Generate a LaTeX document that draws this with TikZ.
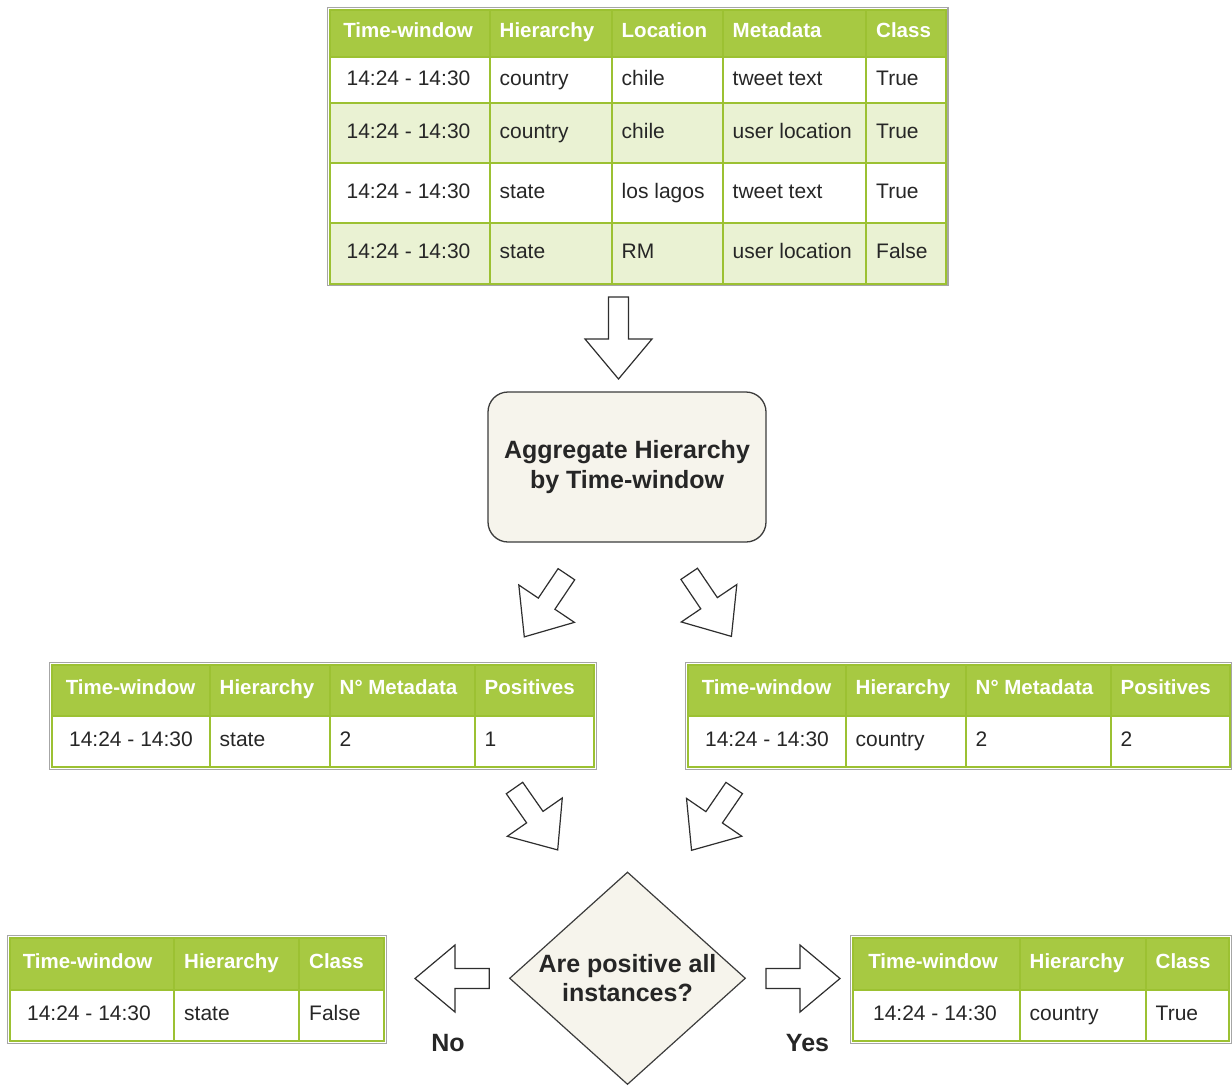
\documentclass[tikz,border=0pt]{standalone}
\usepackage{fontspec}
\setmainfont{Liberation Sans}
\usetikzlibrary{shapes.geometric}
\definecolor{hdrc}{HTML}{A7C942}
\definecolor{gline}{HTML}{9CC132}
\definecolor{litec}{HTML}{EAF2D3}
\definecolor{obord}{HTML}{A6A6A6}
\definecolor{txtc}{HTML}{262626}
\definecolor{boxf}{HTML}{F6F4EC}
\definecolor{boxd}{HTML}{3C3C3C}
\definecolor{arwc}{HTML}{2E2E2E}
\newcommand\tabhdfont{\fontsize{20.5}{24}\selectfont\bfseries}
\newcommand\tabcellfont{\fontsize{21}{25}\selectfont}
\newcommand\boldbigfont{\fontsize{25}{29.5}\selectfont\bfseries}
\tikzset{
 hd/.style={font=\tabhdfont,text=white,inner sep=0pt},
 cell/.style={font=\tabcellfont,text=txtc,inner sep=0pt},
 grid/.style={draw=gline,line width=2pt},
 outerb/.style={draw=obord,line width=1.5pt},
 arw/.style={draw=arwc,line width=1.2pt,fill=white,line join=miter},
 barrow/.pic={\path[arw] (0,-10) -- ({#1-40},-10) -- ({#1-40},-33.5) -- (#1,0) -- ({#1-40},33.5) -- ({#1-40},10) -- (0,10) -- cycle;},
 procbox/.style={draw=boxd,fill=boxf,rounded corners=20pt,minimum width=278pt,minimum height=150pt,line width=1.3pt,align=center,font=\boldbigfont,text=txtc,inner sep=0pt},
 decbox/.style={diamond,aspect=1.11,draw=boxd,fill=boxf,minimum width=236pt,minimum height=212.5pt,inner sep=0pt,align=center,font=\boldbigfont,text=txtc,line width=1.2pt},
 lbl/.style={font=\boldbigfont,text=txtc,inner sep=0pt}
}
\begin{document}
\begin{tikzpicture}[x=1pt,y=-1pt]
\useasboundingbox (0,0) rectangle (1232,1085);
% ---------- top table ----------
\fill[hdrc] (330,10) rectangle (946,57);
\fill[litec] (330,103) rectangle (946,163);
\fill[litec] (330,223) rectangle (946,284);
\foreach \x in {490,612,723,866} \draw[grid] (\x,10) -- (\x,284);
\foreach \y in {57,103,163,223} \draw[grid] (330,\y) -- (946,\y);
\draw[grid] (330,10) rectangle (946,284);
\draw[outerb] (327.5,7.5) rectangle (948,285.5);
\node[hd,anchor=base] (t1h1) at (408,37.5) {Time-window};
\node[hd,anchor=base west] (t1h2) at (499.5,37.5) {Hierarchy};
\node[hd,anchor=base west] (t1h3) at (621.5,37.5) {Location};
\node[hd,anchor=base west] (t1h4) at (732.5,37.5) {Metadata};
\node[hd,anchor=base west] (t1h5) at (876,37.5) {Class};
\foreach \r/\yb/\hh/\loc/\meta/\cls in {1/85/country/chile/tweet text/True,2/138/country/chile/user location/True,3/198/state/los lagos/tweet text/True,4/258.5/state/RM/user location/False}{
 \node[cell,anchor=base] (t1-\r-1) at (408.5,\yb) {14:24 - 14:30};
 \node[cell,anchor=base west] (t1-\r-2) at (499.5,\yb) {\hh};
 \node[cell,anchor=base west] (t1-\r-3) at (621.5,\yb) {\loc};
 \node[cell,anchor=base west] (t1-\r-4) at (732.5,\yb) {\meta};
 \node[cell,anchor=base west] (t1-\r-5) at (876,\yb) {\cls};
}
% ---------- down arrow ----------
\pic[rotate=-90] at (618.5,297) {barrow=82};
% ---------- process box ----------
\node[procbox] (agg) at (627,467) {Aggregate Hierarchy\\by Time-window};
% ---------- diagonal arrows ----------
\pic[rotate=-123.9] at (566.4,574.2) {barrow=75.5};
\pic[rotate=-56] at (689.2,573.8) {barrow=75.5};
% ---------- middle-left table ----------
\fill[hdrc] (52,665) rectangle (594,716);
\foreach \x in {210,330,475} \draw[grid] (\x,665) -- (\x,767);
\draw[grid] (52,716) -- (594,716);
\draw[grid] (52,665) rectangle (594,767);
\draw[outerb] (49.5,662.5) rectangle (596.5,769.5);
\node[hd,anchor=base] (t2h1) at (130.5,694.5) {Time-window};
\node[hd,anchor=base west] (t2h2) at (219.5,694.5) {Hierarchy};
\node[hd,anchor=base west] (t2h3) at (339.5,694.5) {N° Metadata};
\node[hd,anchor=base west] (t2h4) at (484.5,694.5) {Positives};
\node[cell,anchor=base] (t2c1) at (131,746.5) {14:24 - 14:30};
\node[cell,anchor=base west] (t2c2) at (219.5,746.5) {state};
\node[cell,anchor=base west] (t2c3) at (339.5,746.5) {2};
\node[cell,anchor=base west] (t2c4) at (484.5,746.5) {1};
% ---------- middle-right table ----------
\fill[hdrc] (688,665) rectangle (1230,716);
\foreach \x in {846,966,1111} \draw[grid] (\x,665) -- (\x,767);
\draw[grid] (688,716) -- (1230,716);
\draw[grid] (688,665) rectangle (1230,767);
\draw[outerb] (685.5,662.5) rectangle (1231.5,769.5);
\node[hd,anchor=base] (t3h1) at (766.5,694.5) {Time-window};
\node[hd,anchor=base west] (t3h2) at (855.5,694.5) {Hierarchy};
\node[hd,anchor=base west] (t3h3) at (975.5,694.5) {N° Metadata};
\node[hd,anchor=base west] (t3h4) at (1120.5,694.5) {Positives};
\node[cell,anchor=base] (t3c1) at (767,746.5) {14:24 - 14:30};
\node[cell,anchor=base west] (t3c2) at (855.5,746.5) {country};
\node[cell,anchor=base west] (t3c3) at (975.5,746.5) {2};
\node[cell,anchor=base west] (t3c4) at (1120.5,746.5) {2};
% ---------- lower diagonal arrows ----------
\pic[rotate=-55.1] at (514.5,788) {barrow=75.5};
\pic[rotate=-124.4] at (734.2,788) {barrow=75.5};
% ---------- decision ----------
\node[decbox] (dec) at (627.5,978.25) {Are positive all\\instances?};
% ---------- horizontal arrows ----------
\pic[rotate=180] at (489.3,978.5) {barrow=74.3};
\pic at (766,978.5) {barrow=74};
\node[lbl] (no) at (448,1043) {No};
\node[lbl] (yes) at (807.5,1043) {Yes};
% ---------- bottom-left table ----------
\fill[hdrc] (10,938) rectangle (384,990);
\foreach \x in {174,299} \draw[grid] (\x,938) -- (\x,1041);
\draw[grid] (10,990) -- (384,990);
\draw[grid] (10,938) rectangle (384,1041);
\draw[outerb] (7.5,935.5) rectangle (386.5,1043.5);
\node[hd,anchor=base] (t4h1) at (87.5,968) {Time-window};
\node[hd,anchor=base west] (t4h2) at (184,968) {Hierarchy};
\node[hd,anchor=base west] (t4h3) at (309,968) {Class};
\node[cell,anchor=base] (t4c1) at (89,1020.5) {14:24 - 14:30};
\node[cell,anchor=base west] (t4c2) at (184,1020.5) {state};
\node[cell,anchor=base west] (t4c3) at (309,1020.5) {False};
% ---------- bottom-right table ----------
\fill[hdrc] (853,938) rectangle (1229,990);
\foreach \x in {1020,1146} \draw[grid] (\x,938) -- (\x,1041);
\draw[grid] (853,990) -- (1229,990);
\draw[grid] (853,938) rectangle (1229,1041);
\draw[outerb] (850.5,935.5) rectangle (1231.5,1043.5);
\node[hd,anchor=base] (t5h1) at (933,968) {Time-window};
\node[hd,anchor=base west] (t5h2) at (1029.5,968) {Hierarchy};
\node[hd,anchor=base west] (t5h3) at (1155.5,968) {Class};
\node[cell,anchor=base] (t5c1) at (935,1020.5) {14:24 - 14:30};
\node[cell,anchor=base west] (t5c2) at (1029.5,1020.5) {country};
\node[cell,anchor=base west] (t5c3) at (1155.5,1020.5) {True};
\end{tikzpicture}
\end{document}
